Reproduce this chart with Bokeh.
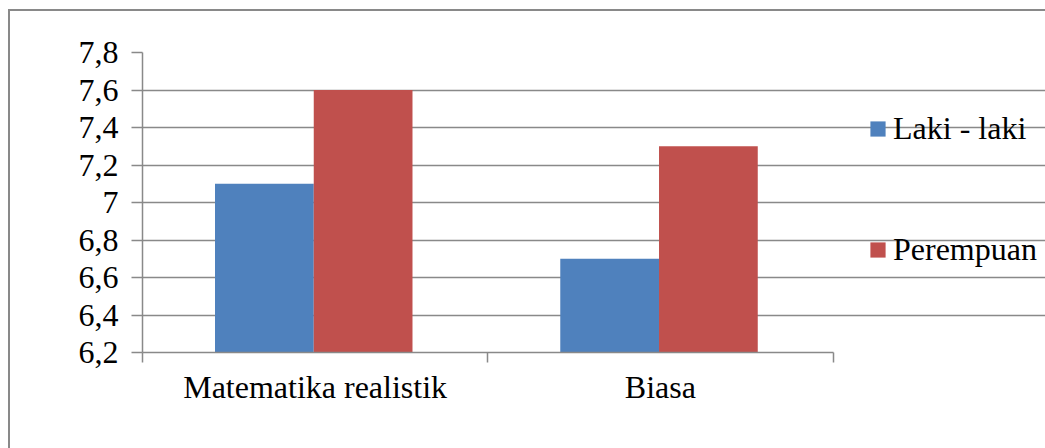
from bokeh.plotting import figure
from bokeh.models import Range1d, FixedTicker, CustomJSTickFormatter, Legend, LegendItem
from bokeh.embed import file_html
from bokeh.resources import INLINE

categories = ["Matematika realistik", "Biasa"]
laki = [7.1, 6.7]
perempuan = [7.6, 7.3]
series_names = ["Laki - laki", "Perempuan"]
y_ticks = [6.2, 6.4, 6.6, 6.8, 7.0, 7.2, 7.4, 7.6, 7.8]

FONT = "Liberation Serif"
GRID = "#898989"

FIG_W, FIG_H = 1035, 437
LEFT, TOP, BOTTOM = 132, 41, 98
PLOT_W = 689                      # width of the category area in pixels
FRAME_W = FIG_W - LEFT            # frame runs to the right edge (legend lives inside)
n = len(categories)

p = figure(width=FIG_W, height=FIG_H, output_backend="svg", toolbar_location=None,
           x_range=Range1d(0, n * FRAME_W / PLOT_W), y_range=Range1d(6.2, 7.8),
           min_border_left=LEFT, min_border_top=TOP, min_border_right=0,
           min_border_bottom=BOTTOM)
p.outline_line_color = None
p.styles = {"margin": "9px 0 0 8px", "box-sizing": "content-box",
            "border-top": "2px solid #898989", "border-left": "2px solid #898989",
            "border-right": "none", "border-bottom": "none"}

centers = [i + 0.5 for i in range(n)]
bw = 0.286
off_l, off_p = -0.147, 0.139
r1 = p.vbar(x=[c + off_l for c in centers], top=laki, bottom=6.2, width=bw,
            fill_color="#4F81BD", line_color=None)
r2 = p.vbar(x=[c + off_p for c in centers], top=perempuan, bottom=6.2, width=bw,
            fill_color="#C0504D", line_color=None)

# x axis
xa = p.xaxis[0]
xa.bounds = (0, n)
xa.ticker = FixedTicker(ticks=centers, minor_ticks=list(range(n + 1)))
xa.major_label_overrides = {c: name for c, name in zip(centers, categories)}
xa.major_tick_line_color = None
xa.major_tick_out = 0
xa.major_tick_in = 0
xa.minor_tick_out = 10
xa.minor_tick_in = 0
xa.minor_tick_line_color = GRID
xa.minor_tick_line_width = 1.5
xa.axis_line_color = GRID
xa.axis_line_width = 1.5
xa.major_label_text_font = FONT
xa.major_label_text_font_size = "32px"
xa.major_label_text_color = "black"
xa.major_label_standoff = 6

# y axis
ya = p.yaxis[0]
ya.ticker = FixedTicker(ticks=y_ticks)
ya.formatter = CustomJSTickFormatter(code="return (Math.round(tick*10)/10).toString().replace('.', ',');")
ya.major_tick_out = 11
ya.major_tick_in = 0
ya.major_tick_line_color = GRID
ya.major_tick_line_width = 1.5
ya.minor_tick_line_color = None
ya.axis_line_color = GRID
ya.axis_line_width = 1.5
ya.major_label_text_font = FONT
ya.major_label_text_font_size = "32px"
ya.major_label_text_color = "black"
ya.major_label_standoff = 13

p.xgrid.grid_line_color = None
p.ygrid.ticker = FixedTicker(ticks=y_ticks)
p.ygrid.bounds = (0, n)
p.ygrid.grid_line_color = GRID
p.ygrid.grid_line_width = 1.5

legend = Legend(items=[LegendItem(label=series_names[0], renderers=[r1]),
                       LegendItem(label=series_names[1], renderers=[r2])],
                location=(726, 84), orientation="vertical")
legend.label_text_font = FONT
legend.label_text_font_size = "32px"
legend.label_text_color = "black"
legend.glyph_width = 19
legend.glyph_height = 19
legend.label_height = 19
legend.label_standoff = 6
legend.spacing = 84
legend.padding = 0
legend.margin = 0
legend.border_line_color = None
legend.background_fill_alpha = 0
p.add_layout(legend, "center")

open("out.html", "w").write(file_html(p, INLINE))
